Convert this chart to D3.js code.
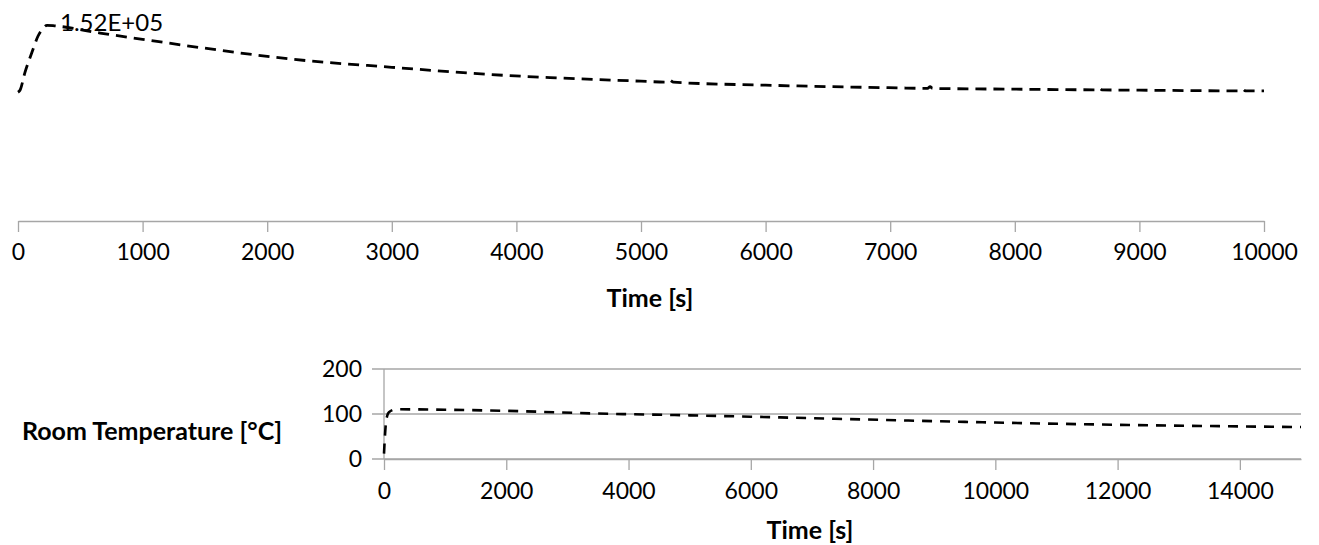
<!DOCTYPE html>
<html>
<head>
<meta charset="utf-8">
<script src="https://cdn.jsdelivr.net/npm/d3@7"></script>
<style>
  body { margin: 0; background: #fff; }
  text { font-family: Lato, "Noto Sans", sans-serif; fill: #000; }
</style>
</head>
<body>
<div id="chart"></div>
<script>
// top chart: series
var topTime  = [0, 16, 56, 112, 160, 195, 233, 300, 659, 1000, 1500, 2207, 3000, 3892, 4270, 5000, 5200, 5230, 5260, 6000, 7055, 7300, 7320, 7340, 8000, 8660, 8680, 8700, 9000, 9810, 9830, 9850, 10000];
var topValue = [100000, 101600, 115500, 131000, 143500, 149000, 152000, 151500, 146000, 141100, 134200, 125600, 119400, 113200, 111400, 108600, 107900, 109400, 107800, 105500, 103400, 103000, 104300, 102950, 102400, 101900, 103100, 101850, 101600, 101100, 102300, 101050, 101000];
var topTicks = [0, 1000, 2000, 3000, 4000, 5000, 6000, 7000, 8000, 9000, 10000];
var peakLabel = "1.52E+05";

// bottom chart: room temperature
var roomTime  = [0, 15, 30, 50, 80, 200, 1000, 2000, 3500, 5000, 6000, 7500, 10000, 12000, 15000];
var roomTemp  = [12, 50, 78, 95, 104, 110.5, 109.5, 107, 101, 97, 94, 89, 81, 76, 71];
var roomXTicks = [0, 2000, 4000, 6000, 8000, 10000, 12000, 14000];
var roomYTicks = [0, 100, 200];

const width = 1319, height = 545;
const axisColor = "#a6a6a6";
const tickFont = 23, titleFont = 25;

const svg = d3.select("#chart")
    .append("svg")
      .attr("width", width)
      .attr("height", height);

// ---------- top chart ----------
const xTop = d3.scaleLinear().domain([0, 10000]).range([18, 1264]);
const yTop = d3.scaleLinear().domain([0, 160000]).range([221, 15]);

const topAxis = svg.append("g")
    .attr("transform", `translate(0, ${yTop(0)})`)
    .call(d3.axisBottom(xTop).tickValues(topTicks).tickSize(11).tickSizeOuter(0).tickPadding(12).tickFormat(d3.format("d")));
styleAxis(topAxis, tickFont);

svg.append("path")
    .datum(topTime.map((t, i) => [t, topValue[i]]))
    .attr("fill", "none")
    .attr("stroke", "#000")
    .attr("stroke-width", 2.8)
    .attr("stroke-dasharray", "11,7")
    .attr("d", d3.line().x(d => xTop(d[0])).y(d => yTop(d[1])).curve(d3.curveMonotoneX));

// data label at the maximum
var iMax = topValue.indexOf(d3.max(topValue));
svg.append("text")
    .attr("x", xTop(topTime[iMax]) + 13)
    .attr("y", yTop(topValue[iMax]) - 3)
    .attr("dy", "0.35em")
    .style("font-size", "24px")
    .text(peakLabel);

svg.append("text")
    .attr("x", 650)
    .attr("y", 298)
    .attr("dy", "0.35em")
    .attr("text-anchor", "middle")
    .style("font-size", titleFont + "px")
    .style("font-weight", "bold")
    .text("Time [s]");

// ---------- bottom chart ----------
const xRoom = d3.scaleLinear().domain([0, 15000]).range([384, 1301]);
const yRoom = d3.scaleLinear().domain([0, 200]).range([459, 369]);

// gridlines (extend left as tick marks)
svg.append("g").selectAll("line")
    .data(roomYTicks)
    .enter().append("line")
      .attr("x1", xRoom(0) - 12)
      .attr("x2", xRoom(15000))
      .attr("y1", d => yRoom(d))
      .attr("y2", d => yRoom(d))
      .attr("stroke", axisColor)
      .attr("stroke-width", 1.3);

// vertical axis line
svg.append("line")
    .attr("x1", xRoom(0)).attr("x2", xRoom(0))
    .attr("y1", yRoom(200)).attr("y2", yRoom(0))
    .attr("stroke", axisColor)
    .attr("stroke-width", 1.3);

svg.append("g").selectAll("text")
    .data(roomYTicks)
    .enter().append("text")
      .attr("x", 362)
      .attr("y", d => yRoom(d))
      .attr("dy", "0.35em")
      .attr("text-anchor", "end")
      .style("font-size", tickFont + "px")
      .text(d => d);

const roomAxis = svg.append("g")
    .attr("transform", `translate(0, ${yRoom(0)})`)
    .call(d3.axisBottom(xRoom).tickValues(roomXTicks).tickSize(11).tickSizeOuter(0).tickPadding(13).tickFormat(d3.format("d")));
styleAxis(roomAxis, tickFont);

svg.append("path")
    .datum(roomTime.map((t, i) => [t, roomTemp[i]]))
    .attr("fill", "none")
    .attr("stroke", "#000")
    .attr("stroke-width", 2.6)
    .attr("stroke-dasharray", "10,8")
    .attr("d", d3.line().x(d => xRoom(d[0])).y(d => yRoom(d[1])).curve(d3.curveMonotoneX));

svg.append("text")
    .attr("x", 22)
    .attr("y", 431)
    .attr("dy", "0.35em")
    .style("font-size", titleFont + "px")
    .style("font-weight", "bold")
    .text("Room Temperature [°C]");

svg.append("text")
    .attr("x", 810)
    .attr("y", 530)
    .attr("dy", "0.35em")
    .attr("text-anchor", "middle")
    .style("font-size", titleFont + "px")
    .style("font-weight", "bold")
    .text("Time [s]");

function styleAxis(g, size) {
    g.select(".domain").attr("stroke", axisColor).attr("stroke-width", 1.3);
    g.selectAll(".tick line").attr("stroke", axisColor).attr("stroke-width", 1.3);
    g.selectAll(".tick text")
        .style("font-family", "Lato, 'Noto Sans', sans-serif")
        .style("font-size", size + "px")
        .attr("fill", "#000");
}
</script>
</body>
</html>
